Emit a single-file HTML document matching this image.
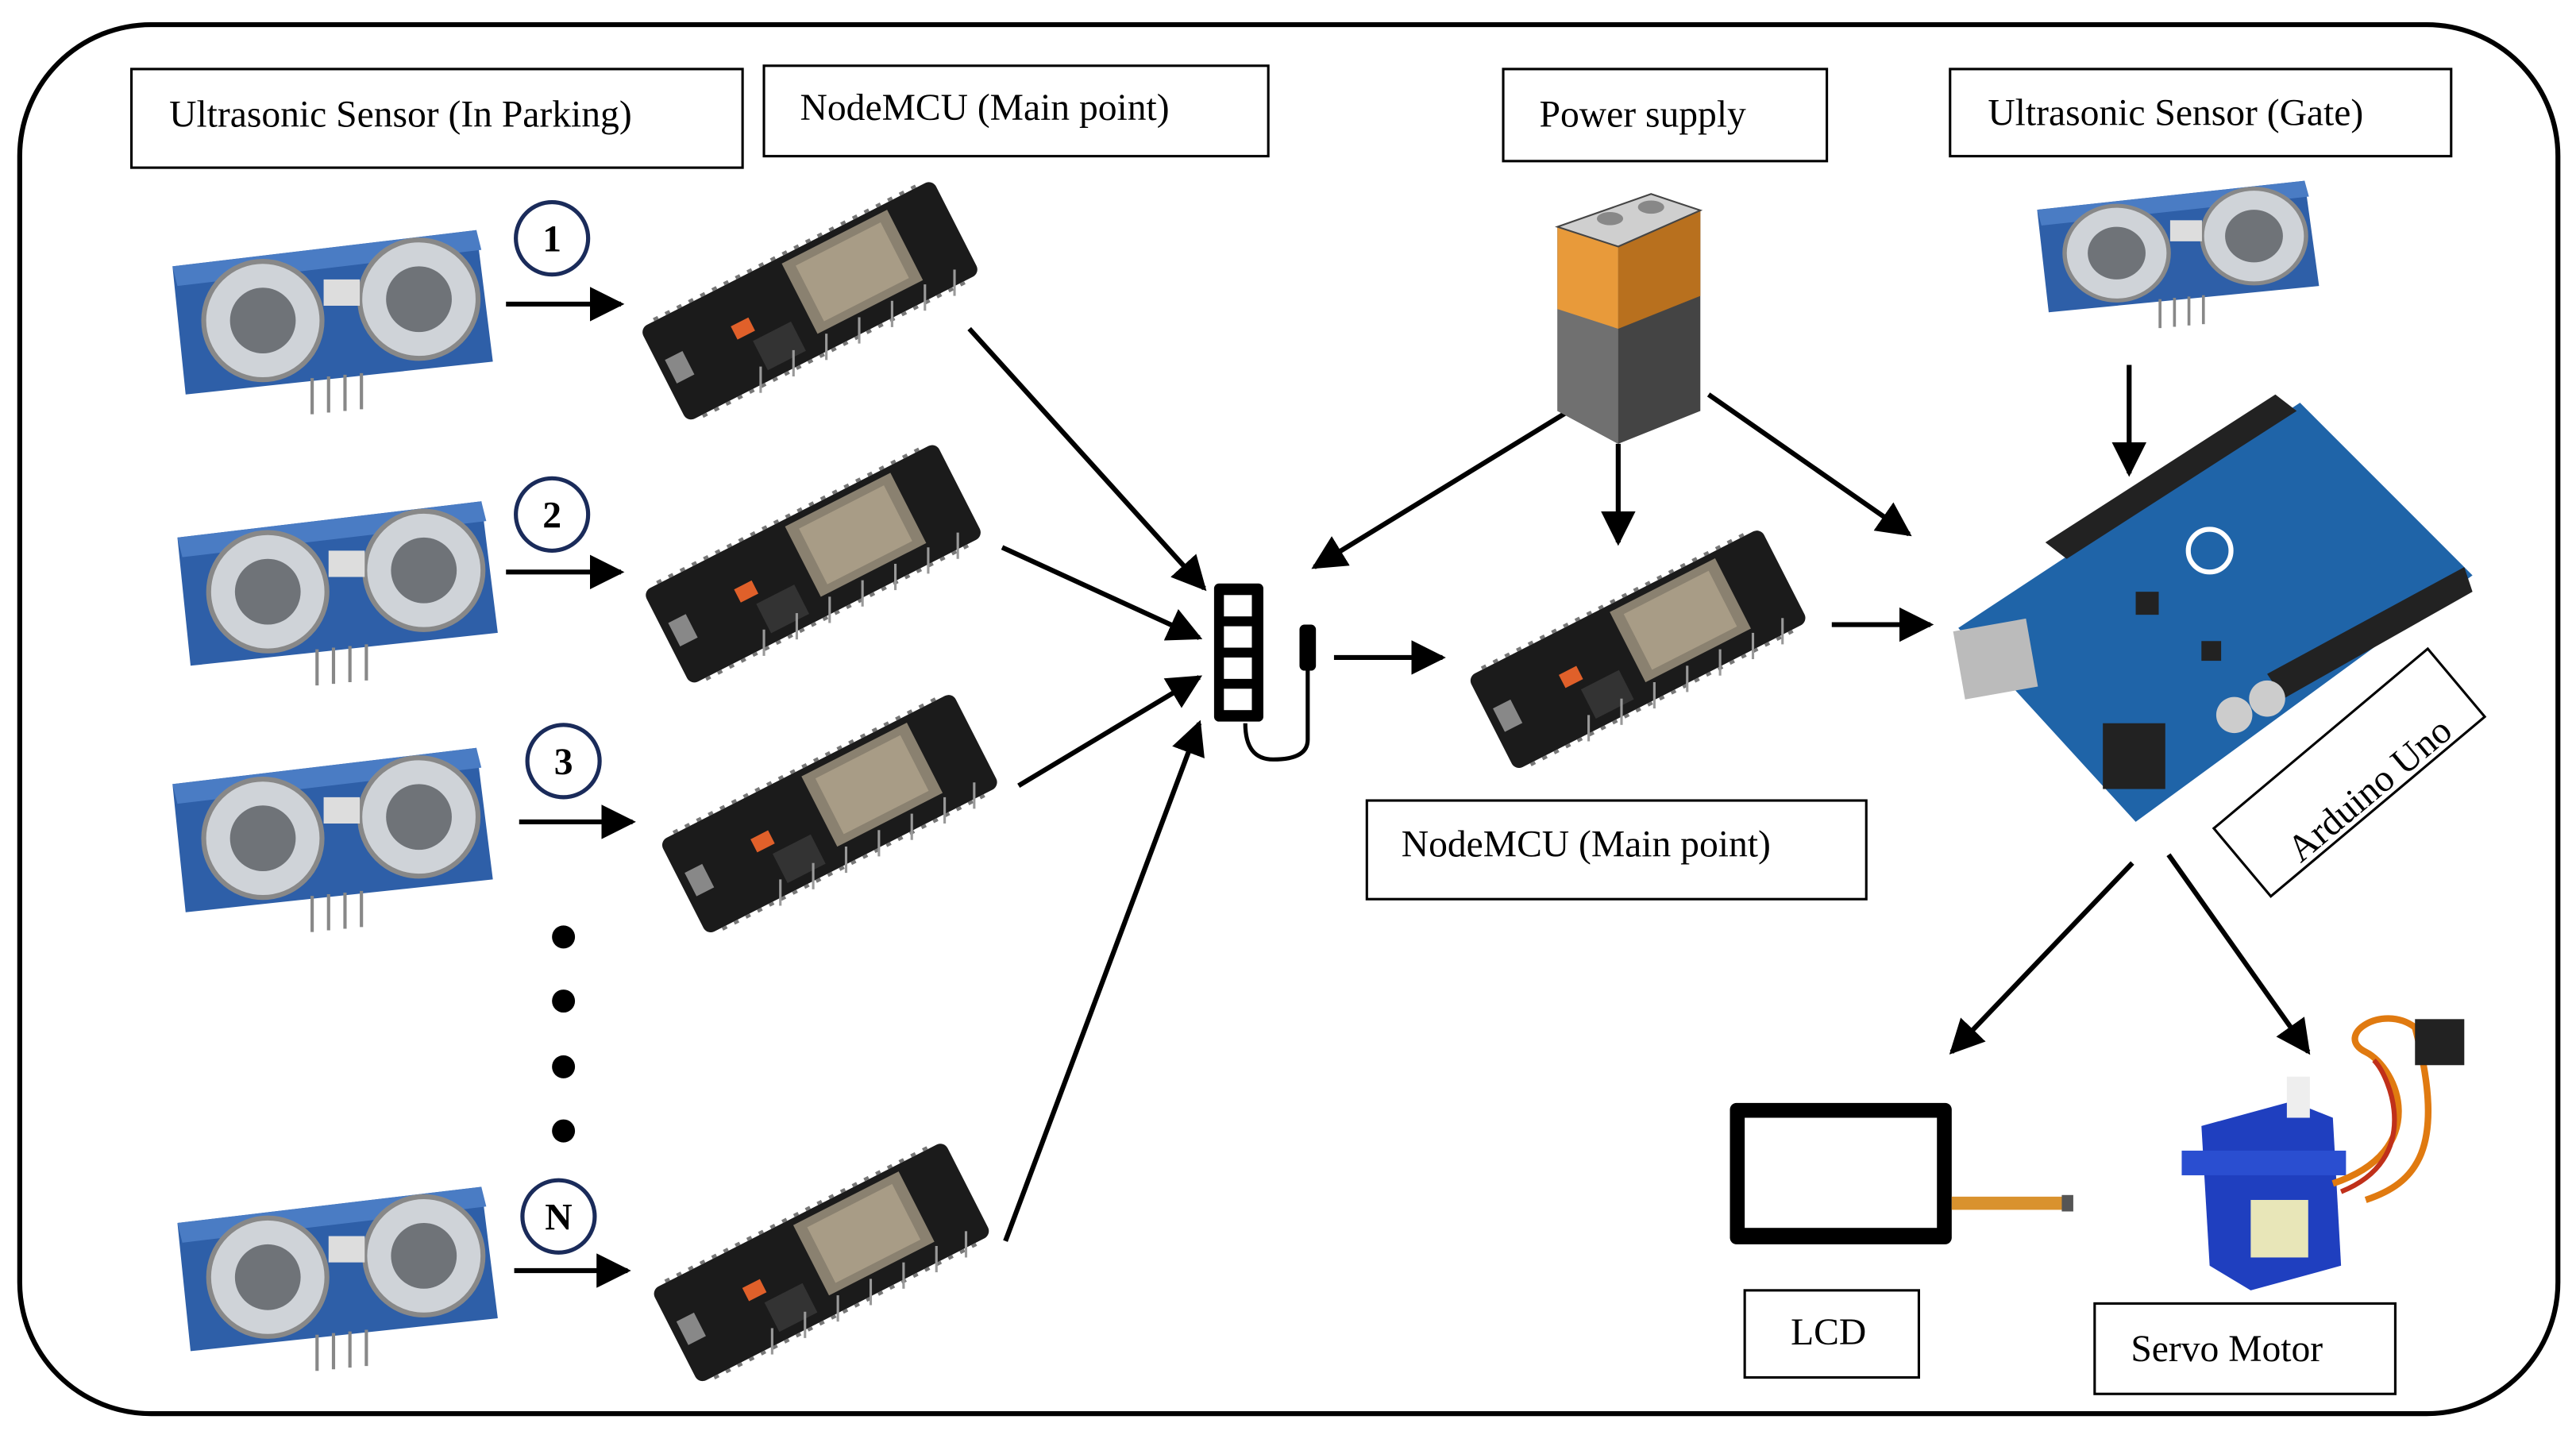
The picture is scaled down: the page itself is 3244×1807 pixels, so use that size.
<!DOCTYPE html>
<html><head><meta charset="utf-8"><style>
html,body{margin:0;padding:0;background:#fff;}
svg{display:block;}
text{font-family:"Liberation Serif",serif;font-size:23px;fill:#000;}
</style></head><body>
<svg width="3244" height="1807" viewBox="0 0 1568 873" preserveAspectRatio="none" xmlns="http://www.w3.org/2000/svg">
<defs>
<marker id="a" viewBox="0 0 10 10" refX="9" refY="5" markerWidth="7" markerHeight="7" orient="auto"><path d="M0,0 L10,5 L0,10 z" fill="#000"/></marker>
<g id="esp">
 <g transform="rotate(-27)">
  <rect x="-100" y="-32" width="200" height="64" rx="5" fill="#1b1b1b"/>
  <rect x="-5" y="-28" width="72" height="48" fill="#8a8170"/>
  <rect x="2" y="-23" width="58" height="38" fill="#a89c86"/>
  <rect x="-50" y="-8" width="12" height="9" fill="#e0602a"/>
  <rect x="-42" y="6" width="26" height="20" fill="#333"/>
  <rect x="-95" y="-8" width="12" height="16" fill="#888"/>
  <g stroke="#777" stroke-width="2">
   <line x1="-90" y1="33" x2="90" y2="33" stroke-dasharray="3 5"/>
   <line x1="-90" y1="-33" x2="90" y2="-33" stroke-dasharray="3 5"/>
  </g>
 </g>
 <g stroke="#999" stroke-width="1.5">
  <line x1="-30" y1="40" x2="-30" y2="56"/><line x1="-10" y1="30" x2="-10" y2="46"/><line x1="10" y1="20" x2="10" y2="36"/><line x1="30" y1="10" x2="30" y2="26"/><line x1="50" y1="0" x2="50" y2="16"/><line x1="70" y1="-10" x2="70" y2="6"/><line x1="88" y1="-19" x2="88" y2="-3"/>
 </g>
</g>
<g id="us">
 <path d="M0,22 L185,0 L195,80 L8,100 z" fill="#2e5fa8"/>
 <path d="M0,22 L185,0 L188,12 L3,34 z" fill="#4a7cc4"/>
 <circle cx="55" cy="55" r="36" fill="#cfd3d8" stroke="#888" stroke-width="3"/>
 <circle cx="55" cy="55" r="20" fill="#6f7378"/>
 <circle cx="150" cy="42" r="36" fill="#cfd3d8" stroke="#888" stroke-width="3"/>
 <circle cx="150" cy="42" r="20" fill="#6f7378"/>
 <rect x="92" y="30" width="22" height="16" fill="#ddd"/>
 <g stroke="#888" stroke-width="2"><line x1="85" y1="90" x2="85" y2="112"/><line x1="95" y1="89" x2="95" y2="111"/><line x1="105" y1="88" x2="105" y2="110"/><line x1="115" y1="87" x2="115" y2="109"/></g>
</g>
</defs>

<rect x="12" y="15" width="1545" height="845" rx="80" ry="80" fill="none" stroke="#000" stroke-width="3"/>

<g fill="#fff" stroke="#000" stroke-width="1.5">
<rect x="80" y="42" width="372" height="60"/>
<rect x="465" y="40" width="307" height="55"/>
<rect x="915" y="42" width="197" height="56"/>
<rect x="1187" y="42" width="305" height="53"/>
<rect x="832" y="487" width="304" height="60"/>
<rect x="1062" y="785" width="106" height="53"/>
<rect x="1275" y="793" width="183" height="55"/>
<rect x="-85" y="-27" width="170" height="54" transform="translate(1430,470) rotate(-40)"/>
</g>
<text x="103" y="77">Ultrasonic Sensor (In Parking)</text>
<text x="487" y="73">NodeMCU (Main point)</text>
<text x="937" y="77">Power supply</text>
<text x="1210" y="76">Ultrasonic Sensor (Gate)</text>
<text x="853" y="521">NodeMCU (Main point)</text>
<text x="1090" y="818">LCD</text>
<text x="1297" y="828">Servo Motor</text>
<text transform="translate(1442,480) rotate(-40)" text-anchor="middle" x="0" y="8">Arduino Uno</text>

<use href="#us" x="105" y="140"/>
<use href="#us" x="108" y="305"/>
<use href="#us" x="105" y="455"/>
<use href="#us" x="108" y="722"/>
<g transform="translate(1240,110) scale(0.88,0.8)"><use href="#us"/></g>

<use href="#esp" x="493" y="183"/>
<use href="#esp" x="495" y="343"/>
<use href="#esp" x="505" y="495"/>
<use href="#esp" x="500" y="768"/>
<use href="#esp" x="997" y="395"/>

<g fill="#fff" stroke="#1a2b5a" stroke-width="2.5">
<circle cx="336" cy="145" r="22"/><circle cx="336" cy="313" r="22"/><circle cx="343" cy="463" r="22"/><circle cx="340" cy="740" r="22"/>
</g>
<g text-anchor="middle">
<text x="336" y="153" style="font-weight:bold">1</text><text x="336" y="321" style="font-weight:bold">2</text><text x="343" y="471" style="font-weight:bold">3</text><text x="340" y="748" style="font-weight:bold">N</text>
</g>
<g fill="#000"><circle cx="343" cy="570" r="7"/><circle cx="343" cy="609" r="7"/><circle cx="343" cy="649" r="7"/><circle cx="343" cy="688" r="7"/></g>

<g stroke="#000" stroke-width="3" marker-end="url(#a)">
<line x1="308" y1="185" x2="378" y2="185"/>
<line x1="308" y1="348" x2="378" y2="348"/>
<line x1="316" y1="500" x2="385" y2="500"/>
<line x1="313" y1="773" x2="382" y2="773"/>
<line x1="590" y1="200" x2="733" y2="358"/>
<line x1="610" y1="333" x2="730" y2="388"/>
<line x1="620" y1="478" x2="730" y2="412"/>
<line x1="612" y1="755" x2="730" y2="440"/>
<line x1="812" y1="400" x2="878" y2="400"/>
<line x1="955" y1="250" x2="800" y2="345"/>
<line x1="985" y1="270" x2="985" y2="330"/>
<line x1="1040" y1="240" x2="1162" y2="325"/>
<line x1="1115" y1="380" x2="1175" y2="380"/>
<line x1="1296" y1="222" x2="1296" y2="288"/>
<line x1="1298" y1="525" x2="1188" y2="640"/>
<line x1="1320" y1="520" x2="1405" y2="640"/>
</g>

<rect x="739" y="355" width="30" height="84" rx="3" fill="#000"/>
<g fill="#fff"><rect x="745" y="362" width="17" height="13"/><rect x="745" y="381" width="17" height="13"/><rect x="745" y="400" width="17" height="13"/><rect x="745" y="419" width="17" height="13"/></g>
<rect x="791" y="380" width="10" height="28" rx="3" fill="#000"/>
<path d="M796,408 L796,450 Q796,462 775,462 Q758,462 758,440" fill="none" stroke="#000" stroke-width="2.5"/>

<path d="M948,138 L1005,118 L1035,128 L1035,250 L985,270 L948,250 z" fill="#444"/>
<path d="M948,138 L985,150 L985,270 L948,250 z" fill="#707070"/>
<path d="M948,138 L985,150 L985,200 L948,188 z" fill="#e89a3a"/>
<path d="M985,150 L1035,128 L1035,180 L985,200 z" fill="#b8701e"/>
<path d="M948,138 L1005,118 L1035,128 L985,150 z" fill="#cfcfcf" stroke="#444"/>
<ellipse cx="980" cy="133" rx="8" ry="4" fill="#888"/><ellipse cx="1005" cy="126" rx="8" ry="4" fill="#888"/>

<path d="M1192,382 L1400,245 L1505,350 L1300,500 z" fill="#1f64a8"/>
<path d="M1245,330 L1385,240 L1398,250 L1258,340 z" fill="#222"/>
<path d="M1380,410 L1500,345 L1505,360 L1390,425 z" fill="#222"/>
<rect x="1192" y="380" width="45" height="42" fill="#bbb" transform="rotate(-10 1214 400)"/>
<rect x="1280" y="440" width="38" height="40" fill="#222"/>
<circle cx="1360" cy="435" r="11" fill="#ccc"/><circle cx="1380" cy="425" r="11" fill="#ccc"/>
<circle cx="1345" cy="335" r="13" fill="none" stroke="#fff" stroke-width="3"/>
<rect x="1300" y="360" width="14" height="14" fill="#222"/><rect x="1340" y="390" width="12" height="12" fill="#222"/>

<rect x="1053" y="671" width="135" height="86" rx="4" fill="#000"/>
<rect x="1062" y="680" width="117" height="67" fill="#fff"/>
<rect x="1188" y="728" width="70" height="8" fill="#d9922e"/>
<rect x="1255" y="727" width="7" height="10" fill="#555"/>

<path d="M1340,685 L1395,670 L1420,680 L1425,770 L1370,785 L1345,770 z" fill="#1f3fbf"/>
<rect x="1328" y="700" width="100" height="15" fill="#2a4ed0"/>
<rect x="1392" y="655" width="14" height="25" fill="#eee"/>
<rect x="1370" y="730" width="35" height="35" fill="#e8e6b8"/>
<path d="M1420,720 C1480,700 1460,650 1440,640 C1420,630 1450,610 1470,625 C1490,700 1470,720 1440,730" fill="none" stroke="#e07a10" stroke-width="4"/>
<path d="M1425,725 C1475,705 1455,655 1445,645" fill="none" stroke="#c0301a" stroke-width="3"/>
<rect x="1470" y="620" width="30" height="28" fill="#222"/>
</svg>
</body></html>
